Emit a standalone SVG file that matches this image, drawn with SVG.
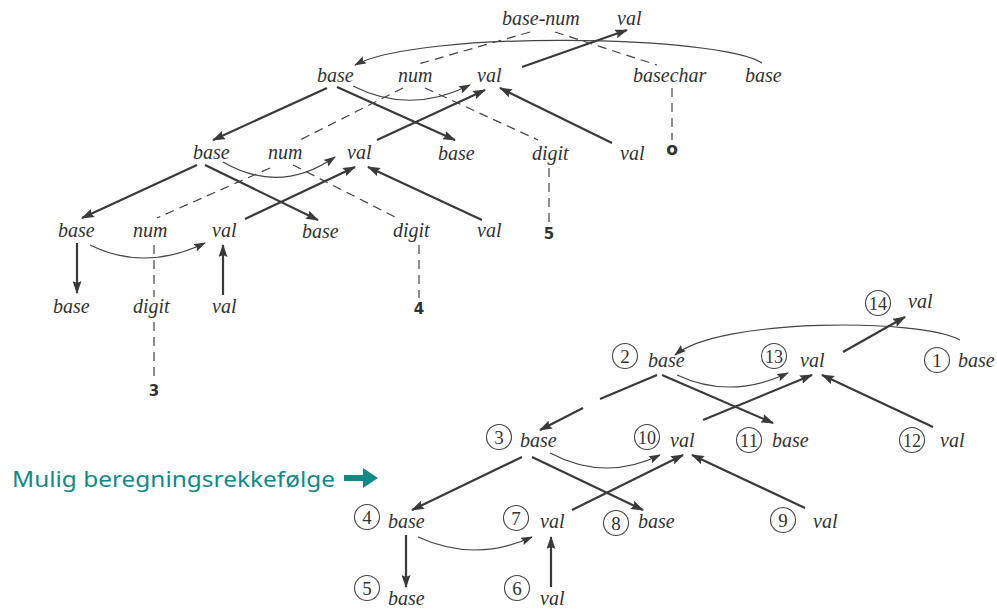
<svg xmlns="http://www.w3.org/2000/svg" width="997" height="612" viewBox="0 0 997 612">
<defs>
<marker id="ah" markerUnits="userSpaceOnUse" markerWidth="13" markerHeight="9" refX="12" refY="4.5" orient="auto">
<path d="M0,0 L13,4.5 L0,9 L2,4.5 z" fill="#3a3a3a"/>
</marker>
<marker id="ahs" markerUnits="userSpaceOnUse" markerWidth="12" markerHeight="8" refX="11" refY="4" orient="auto">
<path d="M0,0 L12,4 L0,8 L2,4 z" fill="#3a3a3a"/>
</marker>
<style>
.t{font-family:"Liberation Serif","Times New Roman",serif;font-style:italic;font-size:20px;fill:#333}
.b{font-family:"DejaVu Sans","Liberation Sans",sans-serif;font-weight:bold;font-size:15px;fill:#333;text-anchor:middle}
.n{font-family:"Liberation Serif","Times New Roman",serif;font-size:19px;fill:#333;text-anchor:middle}
.c{fill:none;stroke:#444;stroke-width:1.1}
.s{fill:none;stroke:#3a3a3a;stroke-width:2.2;marker-end:url(#ah)}
.sn{fill:none;stroke:#3a3a3a;stroke-width:2.2}
.cv{fill:none;stroke:#444;stroke-width:1.2;marker-end:url(#ahs)}
.d{fill:none;stroke:#444;stroke-width:1.2;stroke-dasharray:9 6}
.lbl{font-family:"Comic Sans MS","Noto Sans",sans-serif;font-size:22px;fill:#118a86}
</style>
</defs>
<rect width="997" height="612" fill="#fff"/>

<g id="connectors">
<!-- top tree -->
<path class="cv" d="M762,63 C720,35 420,30 355,65"/>
<path class="s" d="M522,67 L627,30"/>
<path class="d" d="M530,32 L415,65"/>
<path class="d" d="M555,32 L657,65"/>
<path class="d" d="M672,88 L672,140"/>
<path class="s" d="M327,88 L213,140"/>
<path class="s" d="M337,87 L455,140"/>
<path class="cv" d="M353,86 Q410,115 470,85"/>
<path class="d" d="M403,88 L300,140"/>
<path class="d" d="M425,88 L538,140"/>
<path class="s" d="M377,140 L485,90"/>
<path class="s" d="M612,143 L500,88"/>
<path class="d" d="M549,168 L549,222"/>
<path class="s" d="M197,165 L82,218"/>
<path class="s" d="M205,165 L318,220"/>
<path class="cv" d="M223,162 Q280,195 335,157"/>
<path class="d" d="M270,168 L157,218"/>
<path class="d" d="M293,165 L397,218"/>
<path class="s" d="M245,219 L355,167"/>
<path class="s" d="M482,220 L368,167"/>
<path class="s" d="M77,243 L77,293"/>
<path class="cv" d="M90,245 Q145,272 205,243"/>
<path class="d" d="M154,245 L154,297"/>
<path class="d" d="M154,322 L154,377"/>
<path class="s" d="M223,295 L223,245"/>
<path class="d" d="M419,245 L419,298"/>
<!-- bottom tree -->
<path class="cv" d="M960,340 C920,318 720,318 675,355"/>
<path class="s" d="M843,352 L905,317"/>
<path class="sn" d="M657,375 L600,399"/>
<path class="s" d="M583,408 L540,430"/>
<path class="s" d="M662,375 L773,423"/>
<path class="cv" d="M677,375 Q730,400 788,373"/>
<path class="s" d="M703,420 L812,375"/>
<path class="s" d="M933,427 L822,375"/>
<path class="s" d="M522,457 L412,510"/>
<path class="s" d="M532,457 L643,510"/>
<path class="cv" d="M550,453 Q605,482 660,455"/>
<path class="s" d="M572,510 L683,455"/>
<path class="s" d="M805,508 L692,455"/>
<path class="s" d="M406,535 L406,587"/>
<path class="cv" d="M418,537 Q475,563 532,537"/>
<path class="s" d="M551,587 L551,537"/>
</g>

<!-- top tree nodes -->
<g id="t-basenum"><text class="t" x="502" y="25">base-num</text></g>
<g id="t-val0"><text class="t" x="617" y="25">val</text></g>
<g id="t-base1"><text class="t" x="317" y="82">base</text></g>
<g id="t-num1"><text class="t" x="398" y="82">num</text></g>
<g id="t-val1"><text class="t" x="477" y="82">val</text></g>
<g id="t-basechar"><text class="t" x="633" y="82">basechar</text></g>
<g id="t-base1r"><text class="t" x="745" y="82">base</text></g>
<g id="t-base2"><text class="t" x="193" y="159">base</text></g>
<g id="t-num2"><text class="t" x="268" y="159">num</text></g>
<g id="t-val2"><text class="t" x="347" y="159">val</text></g>
<g id="t-base2r"><text class="t" x="438" y="160">base</text></g>
<g id="t-digit2"><text class="t" x="532" y="160">digit</text></g>
<g id="t-val2r"><text class="t" x="620" y="160">val</text></g>
<g id="t-o"><text class="b" x="672" y="155" style="font-size:17px">o</text></g>
<g id="t-base3"><text class="t" x="58" y="237">base</text></g>
<g id="t-num3"><text class="t" x="133" y="237">num</text></g>
<g id="t-val3"><text class="t" x="212" y="237">val</text></g>
<g id="t-base3r"><text class="t" x="302" y="238">base</text></g>
<g id="t-digit3"><text class="t" x="393" y="237">digit</text></g>
<g id="t-val3r"><text class="t" x="477" y="237">val</text></g>
<g id="t-5"><text class="b" x="549" y="239">5</text></g>
<g id="t-base4"><text class="t" x="53" y="313">base</text></g>
<g id="t-digit4"><text class="t" x="133" y="313">digit</text></g>
<g id="t-val4"><text class="t" x="212" y="313">val</text></g>
<g id="t-4"><text class="b" x="419" y="314">4</text></g>
<g id="t-3"><text class="b" x="154" y="396">3</text></g>

<!-- bottom tree nodes -->
<g id="b-14"><circle class="c" cx="878" cy="303" r="12.5"/><text class="n" x="878" y="309.5" textLength="18" lengthAdjust="spacingAndGlyphs">14</text><text class="t" x="908" y="308">val</text></g>
<g id="b-2"><circle class="c" cx="625" cy="356" r="12.5"/><text class="n" x="625" y="362.5">2</text><text class="t" x="648" y="367">base</text></g>
<g id="b-13"><circle class="c" cx="774" cy="356" r="12.5"/><text class="n" x="774" y="362.5" textLength="18" lengthAdjust="spacingAndGlyphs">13</text><text class="t" x="800" y="367">val</text></g>
<g id="b-1"><circle class="c" cx="937" cy="360" r="12.5"/><text class="n" x="937" y="366.5">1</text><text class="t" x="958" y="367">base</text></g>
<g id="b-3"><circle class="c" cx="499" cy="437" r="12.5"/><text class="n" x="499" y="443.5">3</text><text class="t" x="520" y="447">base</text></g>
<g id="b-10"><circle class="c" cx="647" cy="437" r="12.5"/><text class="n" x="647" y="443.5" textLength="18" lengthAdjust="spacingAndGlyphs">10</text><text class="t" x="670" y="447">val</text></g>
<g id="b-11"><circle class="c" cx="749" cy="440" r="12.5"/><text class="n" x="749" y="446.5" textLength="18" lengthAdjust="spacingAndGlyphs">11</text><text class="t" x="772" y="447">base</text></g>
<g id="b-12"><circle class="c" cx="912" cy="440" r="12.5"/><text class="n" x="912" y="446.5" textLength="18" lengthAdjust="spacingAndGlyphs">12</text><text class="t" x="940" y="447">val</text></g>
<g id="b-4"><circle class="c" cx="367" cy="517" r="12.5"/><text class="n" x="367" y="523.5">4</text><text class="t" x="388" y="528">base</text></g>
<g id="b-7"><circle class="c" cx="516" cy="518" r="12.5"/><text class="n" x="516" y="524.5">7</text><text class="t" x="540" y="528">val</text></g>
<g id="b-8"><circle class="c" cx="616" cy="523" r="12.5"/><text class="n" x="616" y="529.5">8</text><text class="t" x="638" y="528">base</text></g>
<g id="b-9"><circle class="c" cx="783" cy="520" r="12.5"/><text class="n" x="783" y="526.5">9</text><text class="t" x="813" y="528">val</text></g>
<g id="b-5"><circle class="c" cx="367" cy="588" r="12.5"/><text class="n" x="367" y="594.5">5</text><text class="t" x="388" y="605">base</text></g>
<g id="b-6"><circle class="c" cx="517" cy="588" r="12.5"/><text class="n" x="517" y="594.5">6</text><text class="t" x="540" y="605">val</text></g>

<g id="label">
<text class="lbl" x="12" y="487" textLength="323" lengthAdjust="spacingAndGlyphs">Mulig beregningsrekkefølge</text>
<path d="M344,475 L363,475 L363,468 L378,478 L363,488 L363,481 L344,481 z" fill="#118a86"/>
</g>
</svg>
